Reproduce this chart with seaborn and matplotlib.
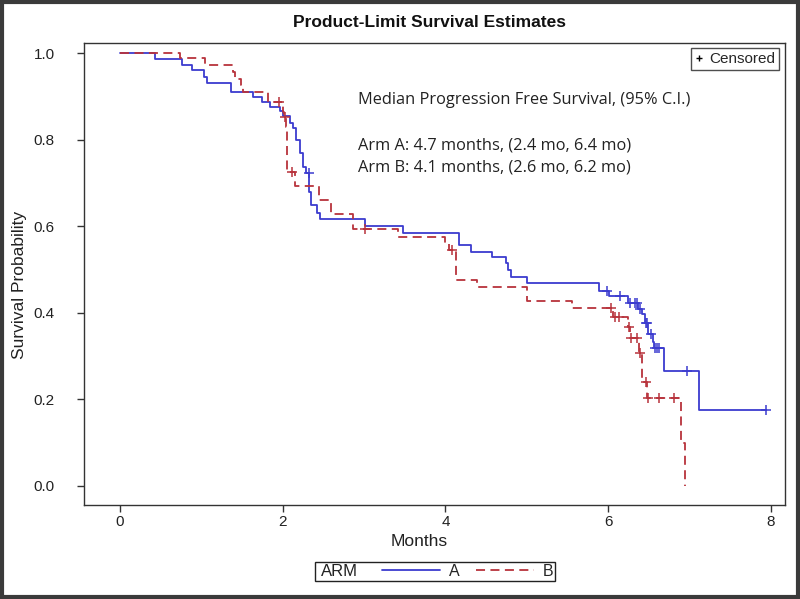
import numpy as np
import pandas as pd
import matplotlib
matplotlib.use("Agg")
import matplotlib.pyplot as plt
import seaborn as sns
from matplotlib.lines import Line2D
from matplotlib.patches import Rectangle

# Kaplan-Meier step data (months, survival after event)
arm_a_times = [0.0, 0.43, 0.76, 0.89, 1.03, 1.07, 1.37, 1.64, 1.75, 1.85, 1.97, 2.00,
               2.09, 2.13, 2.17, 2.21, 2.25, 2.29, 2.33, 2.35, 2.42, 2.46, 3.01, 3.48,
               4.17, 4.31, 4.57, 4.75, 4.77, 4.80, 5.00, 5.89, 6.01, 6.24, 6.37, 6.41,
               6.45, 6.49, 6.55, 6.56, 6.68, 7.12, 7.94]
arm_a_surv = [1.0, 0.986, 0.972, 0.961, 0.945, 0.930, 0.911, 0.899, 0.888, 0.876, 0.867, 0.855,
              0.838, 0.827, 0.799, 0.769, 0.737, 0.722, 0.680, 0.649, 0.630, 0.617, 0.601, 0.585,
              0.557, 0.541, 0.530, 0.514, 0.499, 0.483, 0.468, 0.451, 0.439, 0.422, 0.408, 0.397,
              0.376, 0.351, 0.333, 0.318, 0.266, 0.176, 0.176]
arm_a_censor = [2.32, 5.98, 6.14, 6.27, 6.33, 6.36, 6.39, 6.46, 6.48, 6.52, 6.57, 6.60,
                6.62, 6.97, 7.94]

arm_b_times = [0.0, 0.74, 1.05, 1.39, 1.41, 1.49, 1.51, 1.82, 2.01, 2.02, 2.04, 2.06,
               2.15, 2.45, 2.60, 2.87, 3.42, 3.99, 4.05, 4.13, 4.39, 5.00, 5.55, 6.06,
               6.24, 6.27, 6.38, 6.42, 6.48, 6.89, 6.94]
arm_b_surv = [1.0, 0.988, 0.972, 0.957, 0.941, 0.926, 0.911, 0.888, 0.864, 0.853, 0.830, 0.726,
              0.694, 0.660, 0.629, 0.594, 0.576, 0.561, 0.545, 0.476, 0.460, 0.428, 0.410, 0.390,
              0.367, 0.341, 0.306, 0.241, 0.203, 0.100, 0.0]
arm_b_censor = [1.95, 2.03, 2.12, 3.01, 4.08, 6.03, 6.08, 6.13, 6.25, 6.28, 6.35, 6.39,
                6.46, 6.49, 6.63, 6.81]

arms = ["A", "B"]
colors = {"A": "#3c3ccf", "B": "#b8333c"}

median_lines = ["Median Progression Free Survival, (95% C.I.)",
                "Arm A: 4.7 months, (2.4 mo, 6.4 mo)",
                "Arm B: 4.1 months, (2.6 mo, 6.2 mo)"]


def surv_at(times, surv, t):
    idx = np.searchsorted(times, t, side="right") - 1
    return surv[idx]


steps = pd.concat([
    pd.DataFrame({"t": arm_a_times, "s": arm_a_surv, "arm": "A"}),
    pd.DataFrame({"t": arm_b_times, "s": arm_b_surv, "arm": "B"}),
], ignore_index=True)

cens = pd.concat([
    pd.DataFrame({"t": arm_a_censor,
                  "s": [surv_at(arm_a_times, arm_a_surv, c) for c in arm_a_censor], "arm": "A"}),
    pd.DataFrame({"t": arm_b_censor,
                  "s": [surv_at(arm_b_times, arm_b_surv, c) for c in arm_b_censor], "arm": "B"}),
], ignore_index=True)

sns.set_style("white")
plt.rcParams["font.family"] = ["Liberation Sans", "DejaVu Sans"]

fig = plt.figure(figsize=(8, 5.99), dpi=100)
ax = fig.add_axes([0.105, 0.157, 0.876, 0.771])

sns.lineplot(data=steps, x="t", y="s", hue="arm", style="arm", palette=colors,
             dashes={"A": "", "B": (5, 3)}, drawstyle="steps-post", estimator=None,
             sort=False, linewidth=1.3, legend=False, ax=ax)
for arm in arms:
    sub = cens[cens["arm"] == arm]
    ax.scatter(sub["t"], sub["s"], marker="+", s=45, linewidths=1.1,
               color=colors[arm], zorder=3)

ax.set_xlim(-0.44, 8.17)
ax.set_ylim(-0.044, 1.023)
ax.set_xticks([0, 2, 4, 6, 8])
ax.set_yticks([0.0, 0.2, 0.4, 0.6, 0.8, 1.0])
ax.set_yticklabels([f"{v:.1f}" for v in [0.0, 0.2, 0.4, 0.6, 0.8, 1.0]])
ax.tick_params(direction="out", length=5, width=1, color="#333333",
               labelsize=11, labelcolor="#222222", left=True, bottom=True)
ax.tick_params(axis="y", pad=16)
ax.tick_params(axis="x", pad=2)
ax.set_xlabel("Months", fontsize=12.5, color="#222222")
ax.set_ylabel("Survival Probability", fontsize=12.5, color="#222222")
ax.xaxis.set_label_coords(0.479, -0.062)
ax.yaxis.set_label_coords(-0.081, 0.476)
for sp in ax.spines.values():
    sp.set_color("#333333")
    sp.set_linewidth(1)

fig.text(0.537, 0.962, "Product-Limit Survival Estimates", ha="center", va="center",
         fontsize=12.5, fontweight="bold", color="#111111")

for line, ypx in zip(median_lines, [100, 146, 167]):
    fig.text(358 / 800, 1 - ypx / 599, line, ha="left", va="center",
             fontsize=11.8, family=["Open Sans", "Liberation Sans"], color="#222222")

# censored legend in the corner
cens_handle = Line2D([], [], marker="+", ls="", color="black", markersize=5)
leg = ax.legend(handles=[cens_handle], labels=["Censored"], loc="upper right",
                frameon=True, fancybox=False, edgecolor="#222222", fontsize=11,
                handlelength=0.6, handletextpad=0.4, borderpad=0.25,
                borderaxespad=0.35)
leg.get_frame().set_linewidth(1)

# bottom ARM legend
fig.patches.append(Rectangle((315 / 800, 1 - 581 / 599), 240 / 800, 19 / 599,
                             transform=fig.transFigure, fill=False,
                             edgecolor="#222222", linewidth=1))
fig.text(321 / 800, 1 - 571 / 599, "ARM", ha="left", va="center", fontsize=12,
         color="#222222")
arm_handles = [Line2D([], [], color=colors["A"], lw=1.3),
               Line2D([], [], color=colors["B"], lw=1.3, dashes=(5, 3))]
fig.legend(handles=arm_handles, labels=arms, ncol=2, frameon=False,
           loc="center left", bbox_to_anchor=(368 / 800, 1 - 571 / 599),
           fontsize=11.5, handlelength=3.6, handletextpad=0.6, columnspacing=1.0,
           borderpad=0.4)

# outer frame around the whole image
fig.patches.append(Rectangle((0.002, 0.003), 0.996, 0.994, transform=fig.transFigure,
                             fill=False, edgecolor="#3a3a3a", linewidth=3))

fig.savefig("out.png", dpi=100)
